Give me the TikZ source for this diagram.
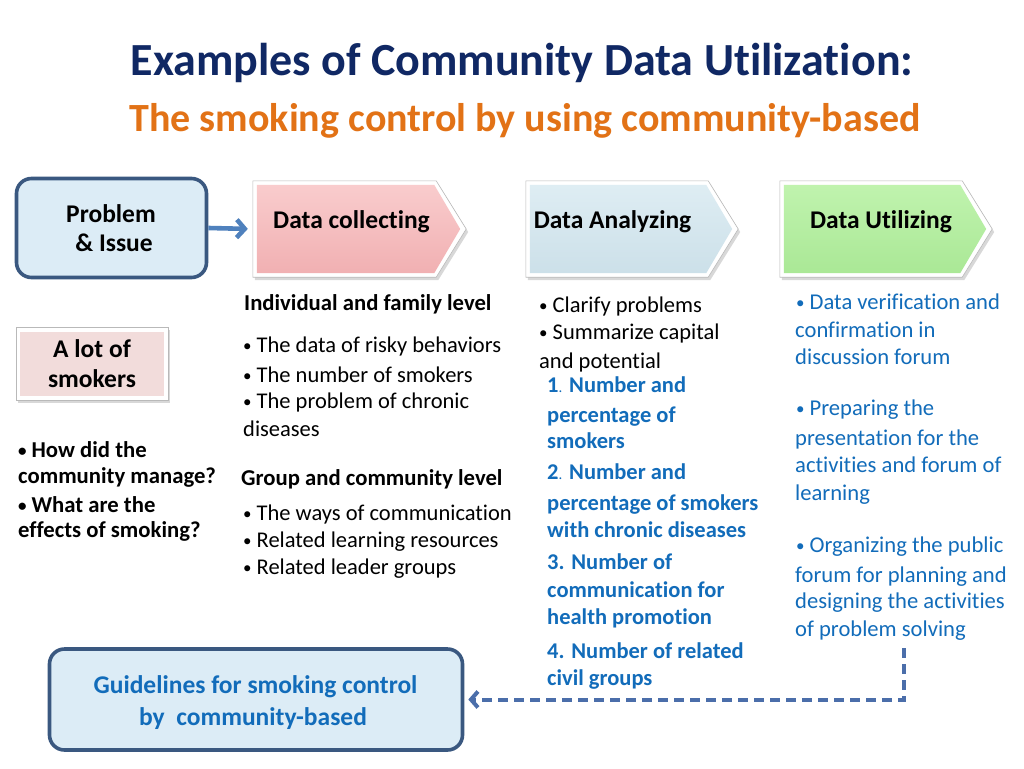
\documentclass[tikz,border=0pt]{standalone}
\usepackage{fontspec}
\setmainfont{Carlito}[Ligatures={NoCommon}]
\usetikzlibrary{shadows,arrows.meta,calc}
\definecolor{navy}{RGB}{16,40,100}
\definecolor{orangeT}{RGB}{226,114,22}
\definecolor{boxedge}{RGB}{58,88,128}
\definecolor{boxfill}{RGB}{220,236,246}
\definecolor{arrowc}{RGB}{79,129,189}
\definecolor{dcfillT}{RGB}{249,204,205}
\definecolor{dcfillB}{RGB}{241,176,178}
\definecolor{dafillT}{RGB}{222,237,243}
\definecolor{dafillB}{RGB}{204,224,233}
\definecolor{dufillT}{RGB}{192,243,174}
\definecolor{dufillB}{RGB}{170,232,150}
\definecolor{pinkbox}{RGB}{242,220,219}
\definecolor{bluetxt}{RGB}{18,108,186}
\definecolor{dashc}{RGB}{75,110,170}
\newcommand\bul{{\fontsize{17}{17}\selectfont\raisebox{1pt}{•}}\hspace{5pt}}
\newcommand\mypent[3]{%
  \path[fill=white, draw=gray!55, line width=0.6pt,
        drop shadow={shadow xshift=2pt, shadow yshift=-3pt, opacity=0.3}]
    (#1.north west) -- ($(#1.north east)+(-30,0)$) -- (#1.east)
    -- ($(#1.south east)+(-30,0)$) -- (#1.south west) -- cycle;
  \path[top color=#2, bottom color=#3]
    ($(#1.north west)+(4,4)$) -- ($(#1.north east)+(-32,4)$) -- ($(#1.east)+(-6,0)$)
    -- ($(#1.south east)+(-32,-4)$) -- ($(#1.south west)+(4,-4)$) -- cycle;
}
\begin{document}
\begin{tikzpicture}[x=1pt,y=-1pt,
  txt/.style={anchor=base west, inner sep=0pt, font=\fontsize{22.5}{27}\selectfont},
  btxt/.style={anchor=base west, inner sep=0pt, font=\fontsize{22.7}{26}\selectfont\bfseries},
  qtxt/.style={anchor=base west, inner sep=0pt, font=\fontsize{22.7}{25}\selectfont\bfseries},
  bbtxt/.style={anchor=base west, inner sep=0pt, text=bluetxt, font=\fontsize{22.5}{26}\selectfont\bfseries},
  butxt/.style={anchor=base west, inner sep=0pt, text=bluetxt, font=\fontsize{22.6}{27}\selectfont},
  hdr/.style={anchor=base, inner sep=0pt, font=\fontsize{25.5}{30}\selectfont\bfseries},
  frame/.style={inner sep=0pt, minimum width=#1},
  roundbox/.style={draw=boxedge, line width=3.6pt, fill=boxfill, rounded corners=15pt, inner sep=0pt}
]
\useasboundingbox[fill=white] (0,0) rectangle (1024,768);

% titles
\node (title) [anchor=base, inner sep=0pt, text=navy, font=\fontsize{46}{52}\selectfont\bfseries] at (522,75) {Examples of Community Data Utilization:};
\node (subtitle) [anchor=base, inner sep=0pt, text=orangeT, font=\fontsize{40}{46}\selectfont\bfseries] at (525,131) {The smoking control by using community-based};

% problem box
\node (prob) [roundbox, minimum width=190pt, minimum height=99pt] at (111.5,228) {};
\node (probt1) [hdr] at (111,222) {Problem};
\node (probt2) [hdr] at (114,251) {\& Issue};

% pentagons
\node (dc) [frame=213pt, minimum height=96pt] at (359.5,229) {};
\node (da) [frame=212pt, minimum height=96pt] at (632,229) {};
\node (du) [frame=212pt, minimum height=96pt] at (886,229) {};
\mypent{dc}{dcfillT}{dcfillB}
\mypent{da}{dafillT}{dafillB}
\mypent{du}{dufillT}{dufillB}
\node (dct) [hdr] at (351.5,228) {Data collecting};
\node (dat) [hdr] at (612.5,228) {Data Analyzing};
\node (dut) [hdr] at (881,228) {Data Utilizing};

\draw[arrowc, line width=4.6pt, shorten >=5pt, -{Straight Barb[length=8pt,width=18pt]}] (prob.east) -- (dc.west);

% a lot of smokers
\node (alot) [fill=white, draw=gray!55, line width=0.6pt, minimum width=152pt, minimum height=73pt,
  drop shadow={shadow xshift=2pt, shadow yshift=-3pt, opacity=0.3}] at (92,363.5) {};
\fill[pinkbox] ($(alot.north west)+(4,5)$) rectangle ($(alot.south east)+(-4,-4)$);
\node (alot1) [hdr, font=\fontsize{25.5}{28}\selectfont\bfseries] at (92,357) {A lot of};
\node (alot2) [hdr, font=\fontsize{25.5}{28}\selectfont\bfseries] at (92,387) {smokers};

% questions
\node (q1) [qtxt] at (18,457) {\bul How did the};
\node (q2) [qtxt] at (18,483) {community manage?};
\node (q3) [qtxt] at (18,512) {\bul What are the};
\node (q4) [qtxt] at (18,537) {effects of smoking?};

% data collecting column
\node (c0) [btxt] at (244,310) {Individual and family level};
\node (c1) [txt] at (243,352) {\bul The data of risky behaviors};
\node (c2) [txt] at (243,382) {\bul The number of smokers};
\node (c3) [txt] at (243,408) {\bul The problem of chronic};
\node (c4) [txt] at (243,436) {diseases};
\node (c5) [btxt] at (241,485) {Group and community level};
\node (c6) [txt] at (243,520) {\bul The ways of communication};
\node (c7) [txt] at (243,547) {\bul Related learning resources};
\node (c8) [txt] at (243,574) {\bul Related leader groups};

% data analyzing column
\node (a1) [txt] at (539,312) {\bul Clarify problems};
\node (a2) [txt] at (539,339) {\bul Summarize capital};
\node (a3) [txt] at (539,368) {and potential};
\node (b1) [bbtxt] at (547,392) {1{\mdseries\fontsize{15}{15}\selectfont.} Number and};
\node (b2) [bbtxt] at (547,422) {percentage of};
\node (b3) [bbtxt] at (547,448) {smokers};
\node (b4) [bbtxt] at (547,479) {2{\mdseries\fontsize{15}{15}\selectfont.} Number and};
\node (b5) [bbtxt] at (547,510) {percentage of smokers};
\node (b6) [bbtxt] at (547,537) {with chronic diseases};
\node (b7) [bbtxt] at (547,569) {3. Number of};
\node (b8) [bbtxt] at (547,597) {communication for};
\node (b9) [bbtxt] at (547,624) {health promotion};
\node (b10) [bbtxt] at (547,658) {4. Number of related};
\node (b11) [bbtxt] at (547,685) {civil groups};

% data utilizing column
\node (u1) [butxt] at (796,309) {\bul Data verification and};
\node (u2) [butxt] at (795,337) {confirmation in};
\node (u3) [butxt] at (795,364) {discussion forum};
\node (u4) [butxt] at (796,415) {\bul Preparing the};
\node (u5) [butxt] at (795,445) {presentation for the};
\node (u6) [butxt] at (795,472) {activities and forum of};
\node (u7) [butxt] at (795,500) {learning};
\node (u8) [butxt] at (796,552) {\bul Organizing the public};
\node (u9) [butxt] at (795,582) {forum for planning and};
\node (u10) [butxt] at (795,608) {designing the activities};
\node (u11) [butxt] at (795,636) {of problem solving};

% guidelines box
\node (guide) [roundbox, minimum width=413pt, minimum height=101pt] at (256,699.5) {};
\node (g1) [hdr, text=bluetxt, font=\fontsize{25.5}{29}\selectfont\bfseries] at (255.5,693) {Guidelines for smoking control};
\node (g2) [hdr, text=bluetxt, font=\fontsize{25.5}{29}\selectfont\bfseries] at (253,725) {by\ \ community-based};

\coordinate (dstart) at (904,648);
\draw[dashc, line width=4pt, dash pattern=on 10pt off 6pt, shorten >=4pt,
  -{Straight Barb[length=7pt,width=16pt]}] (dstart) |- (guide.east);
\end{tikzpicture}
\end{document}
